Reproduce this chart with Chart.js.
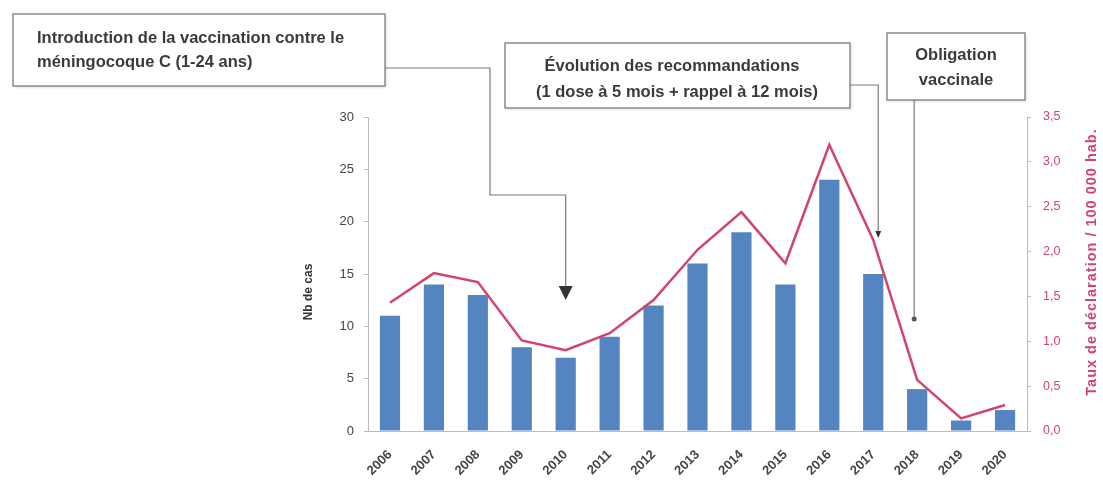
<!DOCTYPE html>
<html>
<head>
<meta charset="utf-8">
<script src="https://cdn.jsdelivr.net/npm/chart.js@4/dist/chart.umd.min.js"></script>
<style>
  html, body { margin: 0; padding: 0; background: #fff; }
  #wrap { width: 1103px; height: 488px; }
</style>
</head>
<body>
<div id="wrap"><canvas id="chart"></canvas></div>
<script>
const years = ["2006", "2007", "2008", "2009", "2010", "2011", "2012", "2013", "2014", "2015", "2016", "2017", "2018", "2019", "2020"];
const nbCas = [11, 14, 13, 8, 7, 9, 12, 16, 19, 14, 24, 15, 4, 1, 2];
const tauxDeclaration = [1.43, 1.76, 1.66, 1.01, 0.9, 1.09, 1.46, 2.02, 2.44, 1.87, 3.19, 2.13, 0.57, 0.14, 0.29];

const BLUE = "#5585c0";
const RED = "#d2446d";
const FONT = "'Liberation Sans', Arial, sans-serif";

// boxes + connector arrows pointing at given years
const annotations = {
  id: "annotations",
  afterDraw(chart) {
    const ctx = chart.ctx;
    const x = chart.scales.x;

    const box = (l, t, r, b) => {
      ctx.save();
      ctx.fillStyle = "#fff";
      ctx.shadowColor = "rgba(0,0,0,0.18)";
      ctx.shadowBlur = 3;
      ctx.shadowOffsetX = 1;
      ctx.shadowOffsetY = 1;
      ctx.fillRect(l, t, r - l, b - t);
      ctx.restore();
      ctx.strokeStyle = "#8c8c8c";
      ctx.lineWidth = 1.5;
      ctx.strokeRect(l, t, r - l, b - t);
    };
    const path = (pts) => {
      ctx.beginPath();
      ctx.moveTo(pts[0][0], pts[0][1]);
      pts.slice(1).forEach(p => ctx.lineTo(p[0], p[1]));
      ctx.strokeStyle = "#7a7a7a";
      ctx.lineWidth = 1.2;
      ctx.stroke();
    };

    ctx.save();
    ctx.font = "bold 16.5px " + FONT;
    ctx.textBaseline = "middle";

    // 2010 : introduction de la vaccination
    const x2010 = x.getPixelForValue(4);
    box(13, 14, 385, 86);
    ctx.fillStyle = "#3a3a3a";
    ctx.textAlign = "left";
    ctx.fillText("Introduction de la vaccination contre le", 37, 38);
    ctx.fillText("méningocoque C (1-24 ans)", 37, 62);
    path([[385, 68], [490, 68], [490, 195], [x2010, 195], [x2010, 287]]);
    ctx.beginPath();
    ctx.moveTo(x2010 - 7, 286);
    ctx.lineTo(x2010 + 7, 286);
    ctx.lineTo(x2010, 300);
    ctx.closePath();
    ctx.fillStyle = "#333";
    ctx.fill();

    // 2017 : évolution des recommandations
    const x2017 = x.getPixelForValue(11) + 5;
    box(505, 43, 850, 108);
    ctx.fillStyle = "#3a3a3a";
    ctx.textAlign = "center";
    ctx.fillText("Évolution des recommandations", 672, 66);
    ctx.fillText("(1 dose à 5 mois + rappel à 12 mois)", 677, 92);
    path([[850, 85], [x2017, 85], [x2017, 234]]);
    ctx.beginPath();
    ctx.moveTo(x2017 - 3, 231);
    ctx.lineTo(x2017 + 3, 231);
    ctx.lineTo(x2017, 238);
    ctx.closePath();
    ctx.fillStyle = "#333";
    ctx.fill();

    // 2018 : obligation vaccinale
    const x2018 = x.getPixelForValue(12) - 3;
    box(887, 33, 1025, 100);
    ctx.fillStyle = "#3a3a3a";
    ctx.fillText("Obligation", 956, 55);
    ctx.fillText("vaccinale", 956, 80);
    path([[x2018, 100], [x2018, 318]]);
    ctx.beginPath();
    ctx.arc(x2018, 319, 2.5, 0, Math.PI * 2);
    ctx.fillStyle = "#555";
    ctx.fill();

    // axis titles, both reading bottom to top
    ctx.textAlign = "center";
    ctx.save();
    ctx.font = "bold 12px " + FONT;
    ctx.translate(309, 292);
    ctx.rotate(-Math.PI / 2);
    ctx.fillStyle = "#333";
    ctx.fillText("Nb de cas", 0, 0);
    ctx.restore();
    ctx.save();
    ctx.font = "bold 14.5px " + FONT;
    ctx.letterSpacing = "1px";
    ctx.translate(1092, 262);
    ctx.rotate(-Math.PI / 2);
    ctx.fillStyle = RED;
    ctx.fillText("Taux de déclaration / 100 000 hab.", 0, 0);
    ctx.restore();

    ctx.restore();
  }
};

new Chart(document.getElementById("chart"), {
  data: {
    labels: years,
    datasets: [
      {
        type: "line",
        data: tauxDeclaration,
        yAxisID: "y2",
        borderColor: RED,
        borderWidth: 2.5,
        pointRadius: 0,
        tension: 0,
        order: 0
      },
      {
        type: "bar",
        data: nbCas,
        yAxisID: "y",
        backgroundColor: BLUE,
        borderWidth: 0,
        categoryPercentage: 1,
        barPercentage: 0.46,
        order: 1
      }
    ]
  },
  options: {
    responsive: true,
    maintainAspectRatio: false,
    animation: false,
    layout: { padding: { top: 117, left: 0, right: 0, bottom: 0 } },
    plugins: {
      legend: { display: false },
      tooltip: { enabled: false }
    },
    scales: {
      x: {
        grid: { display: false },
        border: { color: "#bdbdbd", width: 1 },
        ticks: {
          color: "#444",
          font: { family: FONT, size: 13, weight: "bold" },
          minRotation: 45,
          maxRotation: 45,
          padding: 8
        },
        afterFit: s => { s.height = 57; }
      },
      y: {
        position: "left",
        min: 0,
        max: 30,
        grid: { drawOnChartArea: false, tickLength: 4, color: "#bdbdbd" },
        border: { color: "#bdbdbd", width: 1 },
        ticks: {
          stepSize: 5,
          color: "#444",
          font: { family: FONT, size: 13 },
          padding: 10
        },
        afterFit: s => { s.width = 368; }
      },
      y2: {
        position: "right",
        min: 0,
        max: 3.5,
        grid: { drawOnChartArea: false, tickLength: 4, color: "#bdbdbd" },
        border: { color: "#bdbdbd", width: 1 },
        ticks: {
          stepSize: 0.5,
          color: RED,
          font: { family: FONT, size: 12.5 },
          padding: 12,
          callback: v => v.toFixed(1).replace(".", ",")
        },
        afterFit: s => { s.width = 76; }
      }
    }
  },
  plugins: [annotations]
});
</script>
</body>
</html>
